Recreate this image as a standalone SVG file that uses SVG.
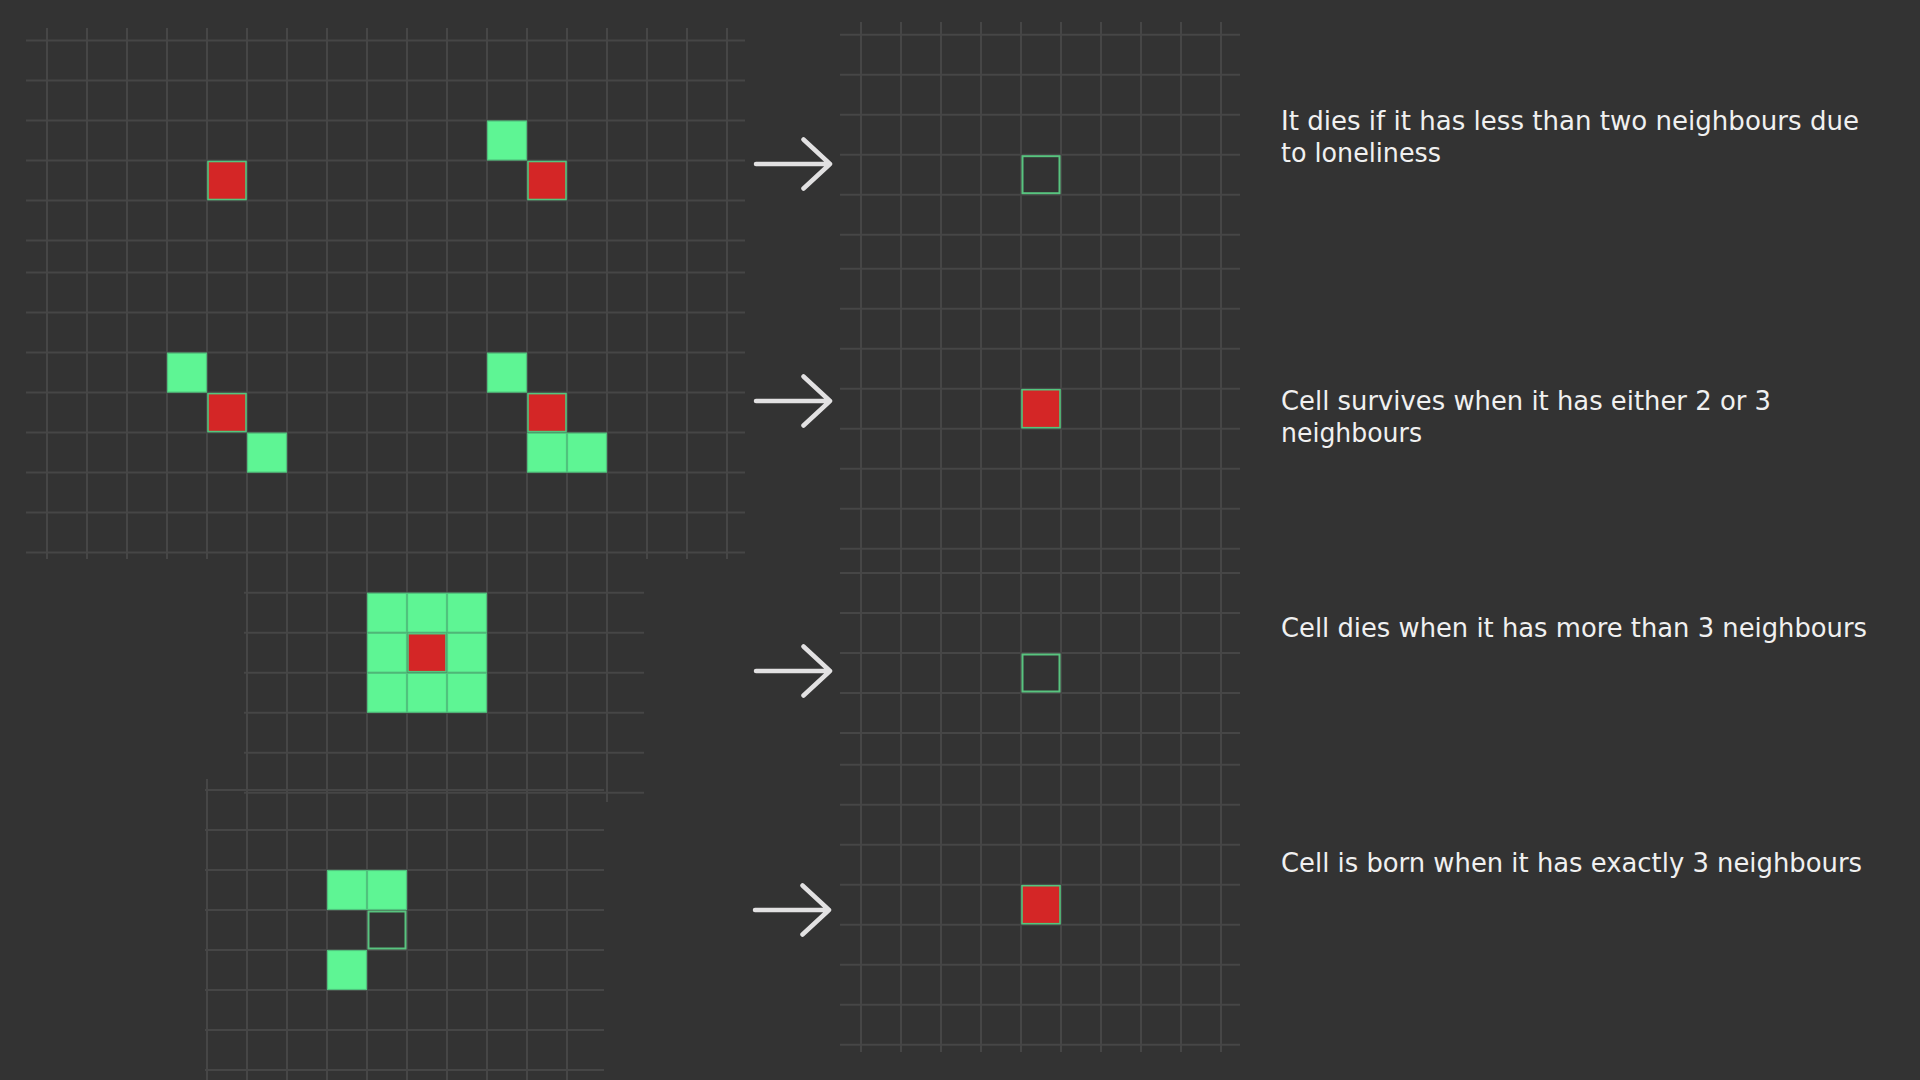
<svg xmlns="http://www.w3.org/2000/svg" width="1920" height="1080" viewBox="0 0 1920 1080">
  <defs>
    <style>
      .grid { stroke: #464646; stroke-width: 2; fill: none; }
      .g { fill: #5ef594; stroke: #50c27d; stroke-width: 1.2; }
      .r { fill: #d42626; stroke: #52c67e; stroke-width: 1.6; }
      .e { fill: none; stroke: #58c47f; stroke-width: 2; }
      .arrow { stroke: #e2e1e2; stroke-width: 4.5; fill: none; stroke-linecap: round; stroke-linejoin: round; }
      .lbl { font-family: 'DejaVu Sans', 'Liberation Sans', sans-serif; font-size: 26px; fill: #f0f0f0; }
    </style>
  </defs>
  <rect x="0" y="0" width="1920" height="1080" fill="#333333"/>

  <!-- Left top grid (two stacked panels) -->
  <g id="grid-left-top">
    <path class="grid" d="M47 28V559M87 28V559M127 28V559M167 28V559M207 28V559M247 28V559M287 28V559M327 28V559M367 28V559M407 28V559M447 28V559M487 28V559M527 28V559M567 28V559M607 28V559M647 28V559M687 28V559M727 28V559"/>
    <path class="grid" d="M26 40.5H745M26 80.5H745M26 120.5H745M26 160.5H745M26 200.5H745M26 240.5H745M26 272.6H745M26 312.6H745M26 352.6H745M26 392.6H745M26 432.6H745M26 472.6H745M26 512.6H745M26 552.6H745"/>
  </g>
  <g id="case-loneliness">
    <rect class="r" x="208" y="161.5" width="38" height="38"/>
  </g>
  <g id="case-loneliness-2">
    <rect class="g" x="487.5" y="121" width="39" height="39"/>
    <rect class="r" x="528" y="161.5" width="38" height="38"/>
  </g>
  <g id="case-survive-1">
    <rect class="g" x="167.5" y="353.1" width="39" height="39"/>
    <rect class="r" x="208" y="393.6" width="38" height="38"/>
    <rect class="g" x="247.5" y="433.1" width="39" height="39"/>
  </g>
  <g id="case-survive-2">
    <rect class="g" x="487.5" y="353.1" width="39" height="39"/>
    <rect class="r" x="528" y="393.6" width="38" height="38"/>
    <rect class="g" x="527.5" y="433.1" width="39" height="39"/>
    <rect class="g" x="567.5" y="433.1" width="39" height="39"/>
  </g>

  <!-- Middle grid -->
  <g id="grid-middle">
    <path class="grid" d="M247 545V802M287 545V802M327 545V802M367 545V802M407 545V802M447 545V802M487 545V802M527 545V802M567 545V802M607 545V802"/>
    <path class="grid" d="M244 592.7H644M244 632.7H644M244 672.7H644M244 712.7H644M244 752.7H644M244 792.7H644"/>
  </g>
  <g id="case-overcrowding">
    <rect class="g" x="367.5" y="593.2" width="39" height="39"/>
    <rect class="g" x="407.5" y="593.2" width="39" height="39"/>
    <rect class="g" x="447.5" y="593.2" width="39" height="39"/>
    <rect class="g" x="367.5" y="633.2" width="39" height="39"/>
    <rect class="r" x="408" y="633.7" width="38" height="38"/>
    <rect class="g" x="447.5" y="633.2" width="39" height="39"/>
    <rect class="g" x="367.5" y="673.2" width="39" height="39"/>
    <rect class="g" x="407.5" y="673.2" width="39" height="39"/>
    <rect class="g" x="447.5" y="673.2" width="39" height="39"/>
  </g>

  <!-- Bottom grid -->
  <g id="grid-bottom">
    <path class="grid" d="M207 779V1080M247 779V1080M287 779V1080M327 779V1080M367 779V1080M407 779V1080M447 779V1080M487 779V1080M527 779V1080M567 779V1080"/>
    <path class="grid" d="M205 790H604M205 830H604M205 870H604M205 910H604M205 950H604M205 990H604M205 1030H604M205 1070H604"/>
  </g>
  <g id="case-birth">
    <rect class="g" x="327.5" y="870.5" width="39" height="39"/>
    <rect class="g" x="367.5" y="870.5" width="39" height="39"/>
    <rect class="e" x="368.5" y="911.5" width="37" height="37"/>
    <rect class="g" x="327.5" y="950.5" width="39" height="39"/>
  </g>

  <!-- Right result grid -->
  <g id="grid-right">
    <path class="grid" d="M861 22V1052M901 22V1052M941 22V1052M981 22V1052M1021 22V1052M1061 22V1052M1101 22V1052M1141 22V1052M1181 22V1052M1221 22V1052"/>
    <path class="grid" d="M840 34.7H1240M840 74.7H1240M840 114.7H1240M840 154.7H1240M840 194.7H1240M840 234.7H1240M840 268.7H1240M840 308.7H1240M840 348.7H1240M840 388.7H1240M840 428.7H1240M840 468.7H1240M840 508.7H1240M840 548.7H1240M840 573H1240M840 613H1240M840 653H1240M840 693H1240M840 733H1240M840 764.7H1240M840 804.7H1240M840 844.7H1240M840 884.7H1240M840 924.7H1240M840 964.7H1240M840 1004.7H1240M840 1044.7H1240"/>
  </g>
  <g id="result-1">
    <rect class="e" x="1022.5" y="156.2" width="37" height="37"/>
  </g>
  <g id="result-2">
    <rect class="r" x="1022" y="389.7" width="38" height="38"/>
  </g>
  <g id="result-3">
    <rect class="e" x="1022.5" y="654.5" width="37" height="37"/>
  </g>
  <g id="result-4">
    <rect class="r" x="1022" y="885.7" width="38" height="38"/>
  </g>

  <!-- Connectors -->
  <g id="connectors">
    <path class="arrow" d="M756 164H830M803.5 139.5L830 164L803.5 188.5"/>
    <path class="arrow" d="M756 401H830M803.5 376.5L830 401L803.5 425.5"/>
    <path class="arrow" d="M756 671H830M803.5 646.5L830 671L803.5 695.5"/>
    <path class="arrow" d="M755 910H829M802.5 885.5L829 910L802.5 934.5"/>
  </g>

  <!-- Labels -->
  <g id="label-1">
    <text class="lbl" x="1281" y="130" textLength="578" lengthAdjust="spacingAndGlyphs">It dies if it has less than two neighbours due</text>
    <text class="lbl" x="1281" y="161.7" textLength="160" lengthAdjust="spacingAndGlyphs">to loneliness</text>
  </g>
  <g id="label-2">
    <text class="lbl" x="1281" y="410" textLength="490" lengthAdjust="spacingAndGlyphs">Cell survives when it has either 2 or 3</text>
    <text class="lbl" x="1281" y="441.7" textLength="141" lengthAdjust="spacingAndGlyphs">neighbours</text>
  </g>
  <g id="label-3">
    <text class="lbl" x="1281" y="636.7" textLength="586" lengthAdjust="spacingAndGlyphs">Cell dies when it has more than 3 neighbours</text>
  </g>
  <g id="label-4">
    <text class="lbl" x="1281" y="871.7" textLength="581" lengthAdjust="spacingAndGlyphs">Cell is born when it has exactly 3 neighbours</text>
  </g>
</svg>
